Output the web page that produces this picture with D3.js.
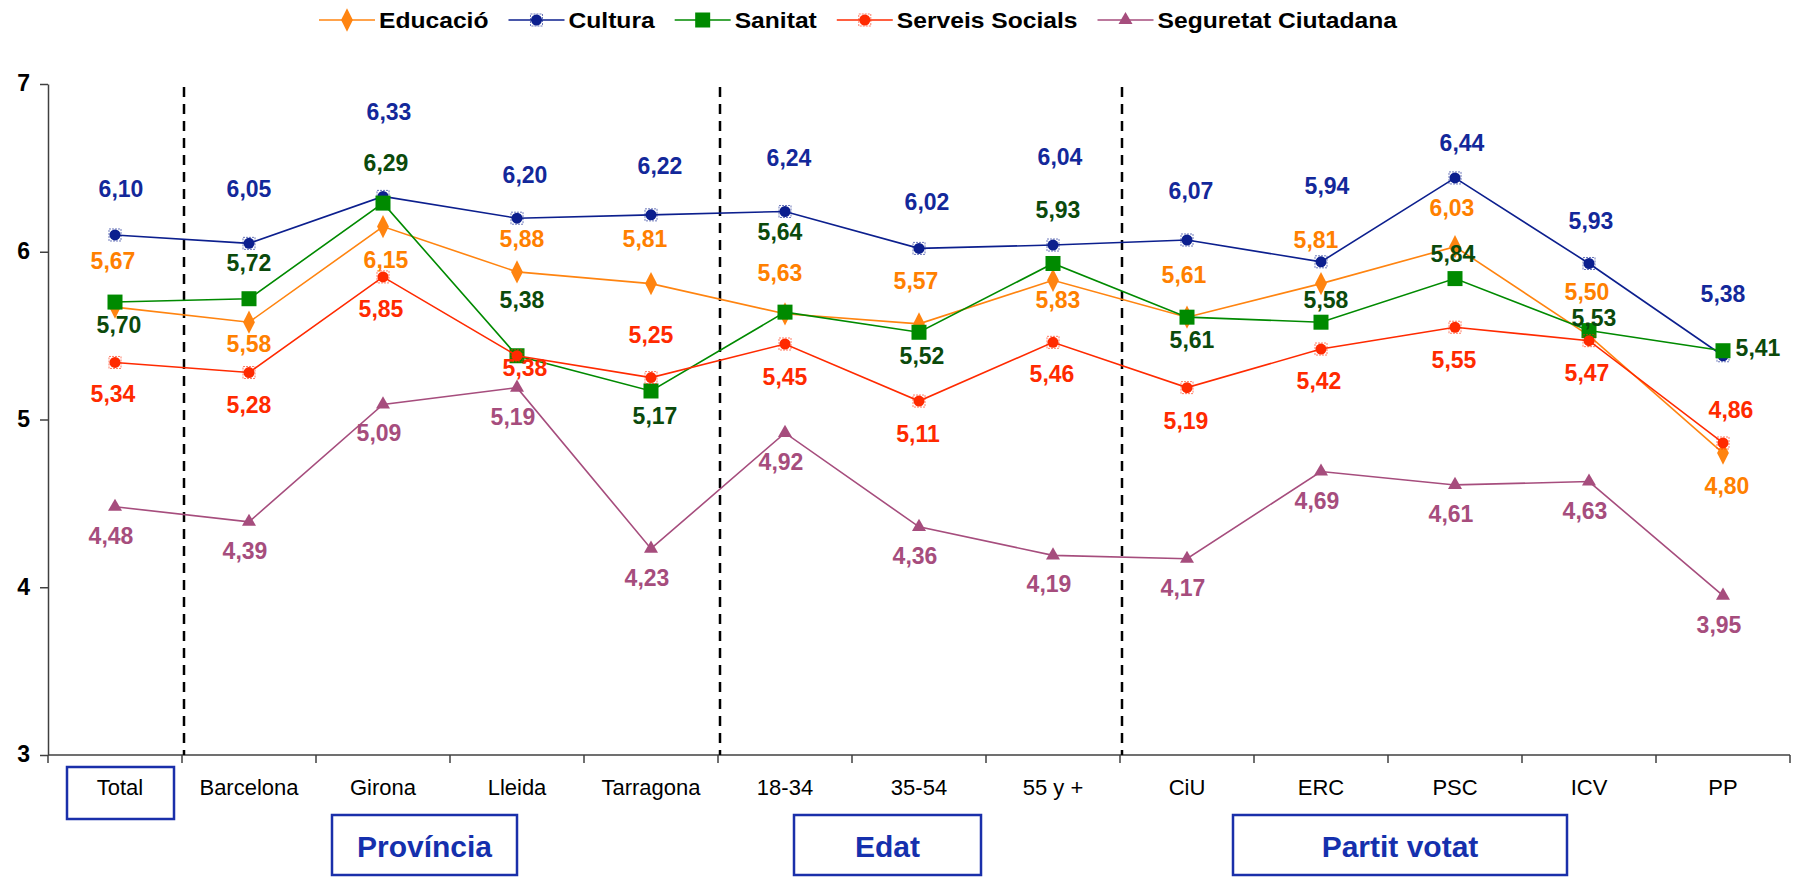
<!DOCTYPE html>
<html>
<head>
<meta charset="utf-8">
<script src="https://cdn.jsdelivr.net/npm/d3@7"></script>
<style>
body { margin: 0; background: #fff; }
text { font-family: "Liberation Sans", Arial, sans-serif; }
</style>
</head>
<body>
<script>
const width = 1794;
const height = 877;

const categories = ["Total", "Barcelona", "Girona", "Lleida", "Tarragona", "18-34", "35-54", "55 y +", "CiU", "ERC", "PSC", "ICV", "PP"];
const yTicks = [3, 4, 5, 6, 7];

const educacio  = [5.67, 5.58, 6.15, 5.88, 5.81, 5.63, 5.57, 5.83, 5.61, 5.81, 6.03, 5.50, 4.80];
const cultura   = [6.10, 6.05, 6.33, 6.20, 6.22, 6.24, 6.02, 6.04, 6.07, 5.94, 6.44, 5.93, 5.38];
const sanitat   = [5.70, 5.72, 6.29, 5.38, 5.17, 5.64, 5.52, 5.93, 5.61, 5.58, 5.84, 5.53, 5.41];
const serveis   = [5.34, 5.28, 5.85, 5.38, 5.25, 5.45, 5.11, 5.46, 5.19, 5.42, 5.55, 5.47, 4.86];
const seguretat = [4.48, 4.39, 5.09, 5.19, 4.23, 4.92, 4.36, 4.19, 4.17, 4.69, 4.61, 4.63, 3.95];

// label offsets from each point [dx, dy], layout only
const educacioLbl  = [[-2,-46],[0,22],[3,33],[5,-33],[-6,-45],[-5,-41],[-3,-43],[5,20],[-3,-42],[-5,-44],[-3,-39],[-2,-44],[4,33]];
const culturaLbl   = [[6,-46],[0,-54],[6,-84],[8,-43],[9,-49],[4,-53],[8,-46],[7,-88],[4,-49],[6,-76],[7,-35],[2,-42],[0,-62]];
const sanitatLbl   = [[4,23],[0,-36],[3,-40],[5,-56],[4,25],[-5,-80],[3,24],[5,-53],[5,23],[5,-22],[-2,-25],[5,-13],[35,-3]];
const serveisLbl   = [[-2,32],[0,32],[-2,32],[8,12],[0,-43],[0,33],[-1,33],[-1,32],[-1,33],[-2,32],[-1,33],[-2,32],[8,-33]];
const seguretatLbl = categories.map(() => [-4, 29]);

const series = [
    {name: "Educació", values: educacio, lbl: educacioLbl, color: "#ff8410", text: "#ff8000", shape: "diamond"},
    {name: "Cultura", values: cultura, lbl: culturaLbl, color: "#0c1f8e", text: "#13289a", shape: "dot"},
    {name: "Sanitat", values: sanitat, lbl: sanitatLbl, color: "#008a00", text: "#0b4a0b", shape: "square"},
    {name: "Serveis Socials", values: serveis, lbl: serveisLbl, color: "#ff2a00", text: "#ff2a00", shape: "dot"},
    {name: "Seguretat Ciutadana", values: seguretat, lbl: seguretatLbl, color: "#a64d7d", text: "#a64d7d", shape: "triangle"}
];

const groups = [
    {name: "Província", x0: 332, x1: 517},
    {name: "Edat", x0: 794, x1: 981},
    {name: "Partit votat", x0: 1233, x1: 1567}
];
const separators = ["Barcelona", "18-34", "CiU"];

const svg = d3.select("body").append("svg")
    .attr("width", width)
    .attr("height", height)
    .style("background", "#fff");

const x = d3.scaleBand()
    .domain(categories)
    .range([48, 1790]);

const y = d3.scaleLinear()
    .domain([3, 7])
    .range([755, 84]);

const cx = d => x(d) + x.bandwidth() / 2;

// y axis
const yAxis = svg.append("g")
    .attr("transform", "translate(48,0)")
    .call(d3.axisLeft(y).tickValues(yTicks).tickSize(8).tickSizeOuter(0).tickPadding(10).tickFormat(d3.format("d")));
yAxis.select(".domain").attr("stroke", "#404040").attr("stroke-width", 1.5);
yAxis.selectAll(".tick line").attr("stroke", "#404040").attr("stroke-width", 1.5);
yAxis.selectAll(".tick text")
    .attr("fill", "#000")
    .attr("dy", "0.3em")
    .style("font-size", "23px")
    .style("font-weight", "bold");

// x axis line with ticks at band edges
const xEdges = categories.map(c => x(c)).concat([x.range()[1]]);
svg.append("line")
    .attr("x1", x.range()[0]).attr("x2", x.range()[1])
    .attr("y1", y(3)).attr("y2", y(3))
    .attr("stroke", "#404040").attr("stroke-width", 1.5);
svg.append("g")
    .selectAll("line")
    .data(xEdges)
    .join("line")
    .attr("x1", d => d).attr("x2", d => d)
    .attr("y1", y(3)).attr("y2", y(3) + 8)
    .attr("stroke", "#404040").attr("stroke-width", 1.5);

svg.append("g")
    .selectAll("text")
    .data(categories)
    .join("text")
    .attr("x", d => cx(d) + (d === "Total" ? 5 : 0))
    .attr("y", 787)
    .attr("text-anchor", "middle")
    .attr("dominant-baseline", "central")
    .style("font-size", "22px")
    .attr("fill", "#000")
    .text(d => d);

// dashed separators
svg.append("g")
    .selectAll("line")
    .data(separators)
    .join("line")
    .attr("x1", d => x(d) + 2).attr("x2", d => x(d) + 2)
    .attr("y1", 87).attr("y2", y(3))
    .attr("stroke", "#000")
    .attr("stroke-width", 2.5)
    .attr("stroke-dasharray", "10,7");

// boxes
svg.append("rect")
    .attr("x", 67).attr("y", 767)
    .attr("width", 107).attr("height", 52)
    .attr("fill", "none").attr("stroke", "#1a2faa").attr("stroke-width", 2.5);

const gb = svg.append("g")
    .selectAll("g")
    .data(groups)
    .join("g");
gb.append("rect")
    .attr("x", d => d.x0).attr("y", 815)
    .attr("width", d => d.x1 - d.x0).attr("height", 60)
    .attr("fill", "#fff").attr("stroke", "#1a2faa").attr("stroke-width", 2.5);
gb.append("text")
    .attr("x", d => (d.x0 + d.x1) / 2)
    .attr("y", 846)
    .attr("text-anchor", "middle")
    .attr("dominant-baseline", "central")
    .style("font-size", "30px")
    .style("font-weight", "bold")
    .attr("fill", "#1530ad")
    .text(d => d.name);

// markers
function marker(g, s) {
    if (s.shape === "diamond") {
        g.append("path").attr("d", d3.symbol(d3.symbolDiamond, 100)()).attr("transform", "scale(1.1,1.25)").attr("fill", s.color);
    } else if (s.shape === "square") {
        g.append("rect").attr("x", -7.5).attr("y", -7.5).attr("width", 15).attr("height", 15).attr("fill", s.color);
    } else if (s.shape === "triangle") {
        g.append("path").attr("d", d3.symbol(d3.symbolTriangle, 85)()).attr("fill", s.color);
    } else {
        g.append("rect").attr("x", -6).attr("y", -6).attr("width", 12).attr("height", 12)
            .attr("fill", "none").attr("stroke", s.color).attr("stroke-opacity", 0.6).attr("stroke-dasharray", "2,1");
        g.append("circle").attr("r", 5.5).attr("fill", s.color);
    }
}

const line = d3.line()
    .x(d => cx(d.c))
    .y(d => y(d.v));

series.forEach(s => {
    const pts = categories.map((c, i) => ({c: c, v: s.values[i]}));
    const g = svg.append("g");
    g.append("path")
        .datum(pts)
        .attr("fill", "none")
        .attr("stroke", s.color)
        .attr("stroke-width", 1.6)
        .attr("d", line);
    g.selectAll("g.pt")
        .data(pts)
        .join("g")
        .attr("class", "pt")
        .attr("transform", d => `translate(${cx(d.c)},${y(d.v)})`)
        .each(function() { marker(d3.select(this), s); });
});

// labels on top of all lines
series.forEach(s => {
    svg.append("g")
        .selectAll("text")
        .data(categories.map((c, i) => ({c: c, v: s.values[i], o: s.lbl[i]})))
        .join("text")
        .attr("x", d => cx(d.c) + d.o[0])
        .attr("y", d => y(d.v) + d.o[1])
        .attr("text-anchor", "middle")
        .attr("dominant-baseline", "central")
        .style("font-size", "23px")
        .style("font-weight", "bold")
        .attr("fill", s.text)
        .text(d => d.v.toFixed(2).replace(".", ","));
});

// legend
const legend = svg.append("g");
let lx = 319;
series.forEach(s => {
    const item = legend.append("g");
    item.append("line")
        .attr("x1", lx).attr("x2", lx + 56)
        .attr("y1", 20).attr("y2", 20)
        .attr("stroke", s.color).attr("stroke-width", 1.6);
    marker(item.append("g").attr("transform", `translate(${lx + 28},20)`), s);
    const t = item.append("text")
        .attr("transform", `translate(${lx + 60},20) scale(1.12,1)`)
        .attr("dominant-baseline", "central")
        .style("font-size", "22px")
        .style("font-weight", "bold")
        .attr("fill", "#000")
        .text(s.name);
    lx += 60 + t.node().getComputedTextLength() * 1.12 + 20;
});
</script>
</body>
</html>
